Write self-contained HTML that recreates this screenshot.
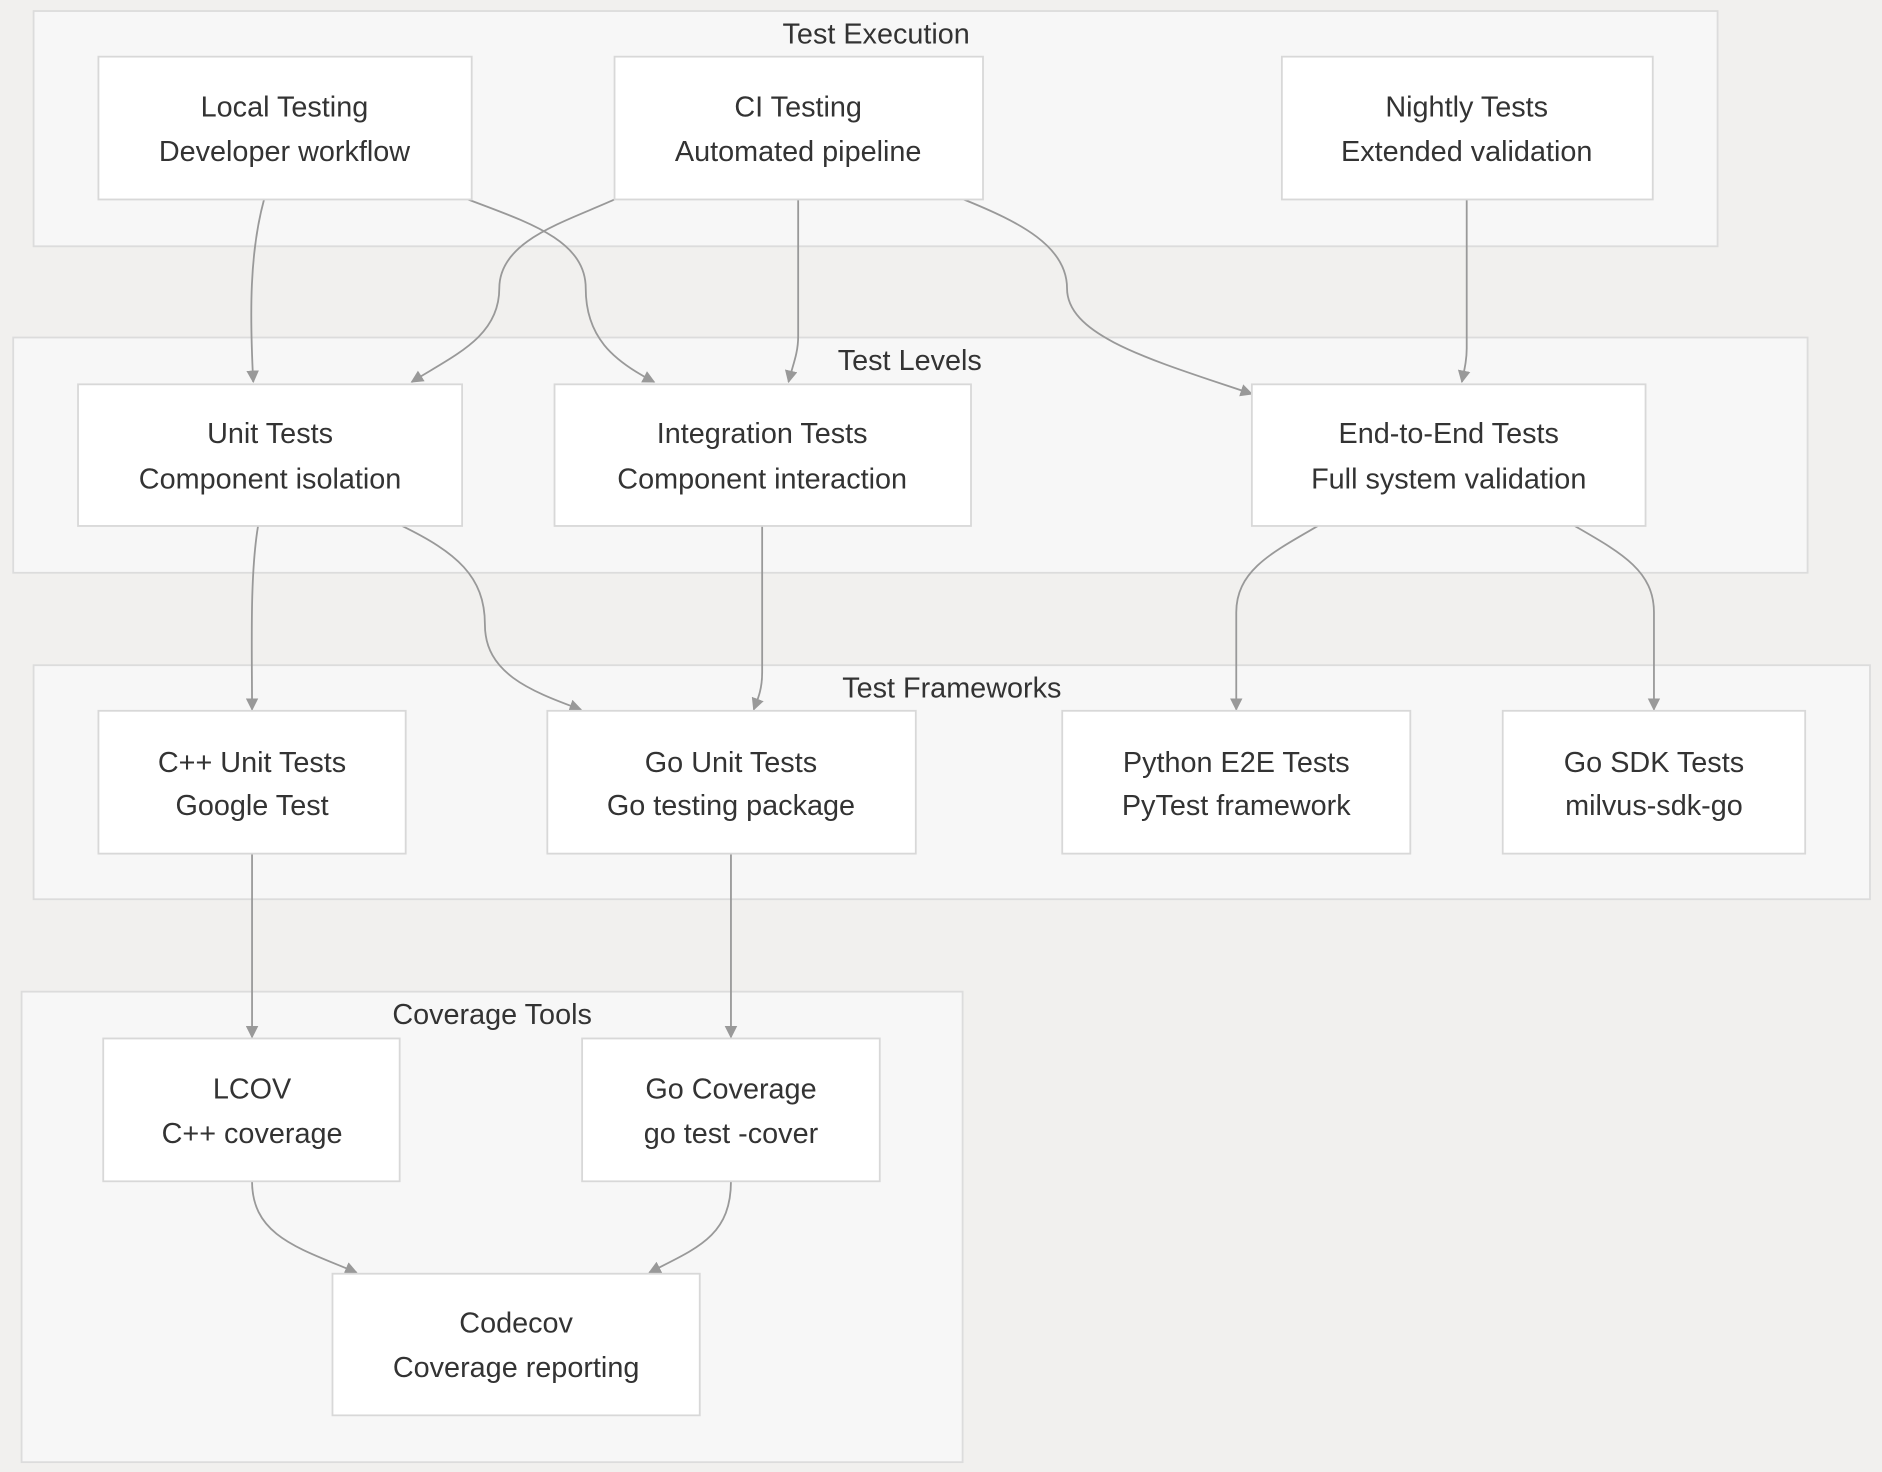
<!DOCTYPE html>
<html><head><meta charset="utf-8"><style>
html,body{margin:0;padding:0;background:#f1f0ee;}
svg{display:block;}
text{font-family:"Liberation Sans",sans-serif;fill:#333;font-size:24px;text-anchor:middle;}
.c{fill:#f7f7f7;stroke:#dcdcdc;stroke-width:1.5;}
.n{fill:#fff;stroke:#d8d8d8;stroke-width:1.5;}
.e{fill:none;stroke:#999;stroke-width:1.5;marker-end:url(#a);}
</style></head><body>
<svg width="1882" height="1472" viewBox="0 0 1568 1226" xmlns="http://www.w3.org/2000/svg">
<defs><marker id="a" viewBox="0 0 10 10" refX="9" refY="5" markerWidth="7" markerHeight="7" orient="auto"><path d="M0,0L10,5L0,10z" fill="#999"/></marker></defs>
<rect class="c" x="28" y="9" width="1403" height="196"/>
<text x="730" y="36">Test Execution</text>
<rect class="c" x="11" y="281" width="1495" height="196"/>
<text x="758" y="308">Test Levels</text>
<rect class="c" x="28" y="554" width="1530" height="195"/>
<text x="793" y="581">Test Frameworks</text>
<rect class="c" x="18" y="826" width="784" height="392"/>
<text x="410" y="853">Coverage Tools</text>

<path class="e" d="M220,166 C208,210 208,260 211,318"/>
<path class="e" d="M390,166 C440,185 488,200 488,240 C488,280 510,300 545,318"/>
<path class="e" d="M512,166 C470,185 416,200 416,240 C416,280 380,295 343,318"/>
<path class="e" d="M665,166 L665,280 C665,295 660,305 657,318"/>
<path class="e" d="M803,166 C850,185 889,205 889,240 C889,280 960,300 1043,328"/>
<path class="e" d="M1222,166 L1222,290 C1222,300 1220,308 1218,318"/>
<path class="e" d="M215,438 C208,480 210,540 210,591"/>
<path class="e" d="M335,438 C380,460 404,480 404,520 C404,560 440,575 484,591"/>
<path class="e" d="M635,438 L635,560 C635,575 631,583 628,591"/>
<path class="e" d="M1098,438 C1060,460 1030,475 1030,510 L1030,591"/>
<path class="e" d="M1312,438 C1350,460 1378,475 1378,510 L1378,591"/>
<path class="e" d="M210,711 L210,864"/>
<path class="e" d="M609,711 L609,864"/>
<path class="e" d="M210,984 C210,1030 250,1040 297,1060"/>
<path class="e" d="M609,984 C609,1030 580,1040 541,1060"/>

<rect class="n" x="82" y="47" width="311" height="119"/><text x="237" y="97">Local Testing</text><text x="237" y="134">Developer workflow</text>
<rect class="n" x="512" y="47" width="307" height="119"/><text x="665" y="97">CI Testing</text><text x="665" y="134">Automated pipeline</text>
<rect class="n" x="1068" y="47" width="309" height="119"/><text x="1222" y="97">Nightly Tests</text><text x="1222" y="134">Extended validation</text>
<rect class="n" x="65" y="320" width="320" height="118"/><text x="225" y="369">Unit Tests</text><text x="225" y="407">Component isolation</text>
<rect class="n" x="462" y="320" width="347" height="118"/><text x="635" y="369">Integration Tests</text><text x="635" y="407">Component interaction</text>
<rect class="n" x="1043" y="320" width="328" height="118"/><text x="1207" y="369">End-to-End Tests</text><text x="1207" y="407">Full system validation</text>
<rect class="n" x="82" y="592" width="256" height="119"/><text x="210" y="643">C++ Unit Tests</text><text x="210" y="679">Google Test</text>
<rect class="n" x="456" y="592" width="307" height="119"/><text x="609" y="643">Go Unit Tests</text><text x="609" y="679">Go testing package</text>
<rect class="n" x="885" y="592" width="290" height="119"/><text x="1030" y="643">Python E2E Tests</text><text x="1030" y="679">PyTest framework</text>
<rect class="n" x="1252" y="592" width="252" height="119"/><text x="1378" y="643">Go SDK Tests</text><text x="1378" y="679">milvus-sdk-go</text>
<rect class="n" x="86" y="865" width="247" height="119"/><text x="210" y="915">LCOV</text><text x="210" y="952">C++ coverage</text>
<rect class="n" x="485" y="865" width="248" height="119"/><text x="609" y="915">Go Coverage</text><text x="609" y="952">go test -cover</text>
<rect class="n" x="277" y="1061" width="306" height="118"/><text x="430" y="1110">Codecov</text><text x="430" y="1147">Coverage reporting</text>
</svg>
</body></html>
